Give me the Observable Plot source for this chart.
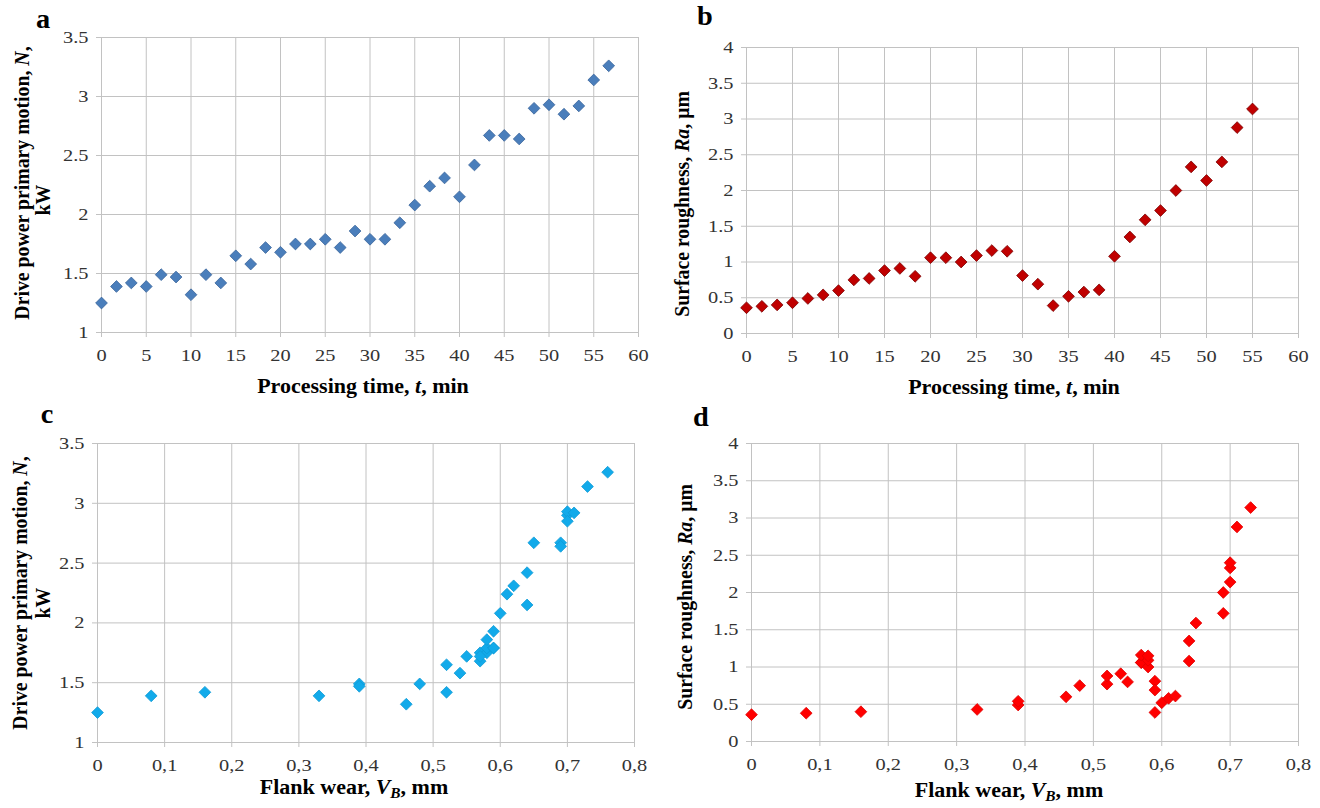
<!DOCTYPE html>
<html><head><meta charset="utf-8">
<script src="https://cdn.jsdelivr.net/npm/d3@7"></script>
<script src="https://cdn.jsdelivr.net/npm/@observablehq/plot@0.6"></script>
<style>
html,body{margin:0;padding:0;background:#fff;}
#root{position:relative;width:1320px;height:808px;overflow:hidden;font-family:'Liberation Serif','DejaVu Serif',serif;background:#fff;}
.panel{position:absolute;}
.t{position:absolute;white-space:nowrap;font-weight:bold;color:#000;transform:translate(-50%,-50%) scaleX(1.1);font-size:20px;line-height:1;font-family:'Liberation Serif','DejaVu Serif',serif;}
.ty{transform:translate(-50%,-50%) rotate(-90deg) scaleY(1.1);font-size:19.8px;}
.letter{font-size:27px;transform:translate(-50%,-50%) scaleX(1.05);}
sub{font-size:0.7em;vertical-align:-0.25em;}
svg text{font-family:'Liberation Serif','DejaVu Serif',serif;}
</style></head><body><div id="root"></div>
<script>
// ---- data ----
const time = [0, 1.67, 3.33, 5, 6.67, 8.33, 10, 11.67, 13.33, 15, 16.67, 18.33, 20, 21.67, 23.33, 25, 26.67, 28.33, 30, 31.67, 33.33, 35, 36.67, 38.33, 40, 41.67, 43.33, 45, 46.67, 48.33, 50, 51.67, 53.33, 55, 56.67];
const power = [1.25, 1.39, 1.42, 1.39, 1.49, 1.47, 1.32, 1.49, 1.42, 1.65, 1.58, 1.72, 1.68, 1.75, 1.75, 1.79, 1.72, 1.86, 1.79, 1.79, 1.93, 2.08, 2.24, 2.31, 2.15, 2.42, 2.67, 2.67, 2.64, 2.90, 2.93, 2.85, 2.92, 3.14, 3.26];
const roughness = [0.36, 0.38, 0.40, 0.43, 0.49, 0.54, 0.60, 0.75, 0.77, 0.88, 0.91, 0.80, 1.06, 1.06, 1.00, 1.09, 1.16, 1.15, 0.81, 0.69, 0.39, 0.52, 0.58, 0.61, 1.08, 1.35, 1.59, 1.72, 2.00, 2.33, 2.14, 2.40, 2.88, 3.14];
const wear = [0, 0.08, 0.16, 0.33, 0.39, 0.39, 0.46, 0.48, 0.52, 0.52, 0.54, 0.55, 0.57, 0.57, 0.58, 0.58, 0.57, 0.58, 0.59, 0.59, 0.59, 0.60, 0.61, 0.62, 0.64, 0.64, 0.65, 0.69, 0.69, 0.70, 0.70, 0.70, 0.71, 0.73, 0.76];

const timeTicks = [0, 5, 10, 15, 20, 25, 30, 35, 40, 45, 50, 55, 60];
const powerTicks = [1, 1.5, 2, 2.5, 3, 3.5];
const roughTicks = [0, 0.5, 1, 1.5, 2, 2.5, 3, 3.5, 4];
const wearTicks = [0, 0.1, 0.2, 0.3, 0.4, 0.5, 0.6, 0.7, 0.8];

const pts = (xs, ys) => ys.map((y, i) => ({x: xs[i], y}));

const root = document.getElementById("root");
const GRID = "#c2c2c2";
const FONT = "'Liberation Serif','DejaVu Serif',serif";

function widen(chart, k) {
  chart.querySelectorAll('g[aria-label$="tick label"] text').forEach(t => {
    const tr = t.getAttribute("transform");
    if (tr && tr.includes("translate")) {
      t.setAttribute("transform", tr + ` scale(${k},1)`);
    } else {
      const x = +t.getAttribute("x") || 0, y = +t.getAttribute("y") || 0;
      t.removeAttribute("x");
      t.setAttribute("transform", `translate(${x},0) scale(${k},1)`);
    }
  });
}

function panel(o) {
  const fmtX = o.comma ? (d => String(d).replace(".", ",")) : (d => String(d));
  const chart = Plot.plot({
    width: o.w, height: o.h,
    marginLeft: o.ml, marginRight: o.mr, marginTop: o.mt, marginBottom: o.mb,
    style: {fontFamily: FONT, fontSize: "17px", background: "#fff", overflow: "visible"},
    x: {domain: [o.xt[0], o.xt[o.xt.length - 1]]},
    y: {domain: [o.yt[0], o.yt[o.yt.length - 1]]},
    marks: [
      Plot.gridX(o.xt, {stroke: GRID, strokeOpacity: 1, strokeWidth: 1}),
      Plot.gridY(o.yt, {stroke: GRID, strokeOpacity: 1, strokeWidth: 1}),
      Plot.axisX(o.xt, {tickSize: 5, tickPadding: 11, tickFormat: fmtX, stroke: GRID, fill: "#333", label: null}),
      Plot.axisY(o.yt, {tickSize: 5, tickPadding: 8, tickFormat: d => String(d), stroke: GRID, fill: "#333", label: null}),
      Plot.dot(o.data, {x: "x", y: "y", symbol: "diamond2", r: 5.3, fill: o.fill, stroke: o.stroke, strokeWidth: 0.8})
    ]
  });
  widen(chart, 1.2);
  chart.classList.add("panel");
  chart.style.left = o.left + "px";
  chart.style.top = o.top + "px";
  root.appendChild(chart);
}

// a
panel({left: 0, top: 0, w: 660, h: 400, ml: 101, mr: 22, mt: 37, mb: 68,
  xt: timeTicks, yt: powerTicks, data: pts(time, power), fill: "#4a7ebb", stroke: "#3a659a"});
// b
panel({left: 660, top: 0, w: 660, h: 400, ml: 86, mr: 22, mt: 47, mb: 67,
  xt: timeTicks, yt: roughTicks, data: pts(time, roughness), fill: "#c00000", stroke: "#7a0000"});
// c
panel({left: 0, top: 400, w: 660, h: 408, ml: 97, mr: 26, mt: 43, mb: 66,
  xt: wearTicks, yt: powerTicks, data: pts(wear, power), fill: "#12aaea", stroke: "#0f9ad6", comma: true});
// d
panel({left: 660, top: 400, w: 660, h: 408, ml: 91, mr: 22, mt: 43, mb: 67,
  xt: wearTicks, yt: roughTicks, data: pts(wear, roughness), fill: "#ff0000", stroke: "#e00000", comma: true});

function txt(html, x, y, cls) {
  const d = document.createElement("div");
  d.className = "t " + (cls || "");
  d.style.left = x + "px";
  d.style.top = y + "px";
  d.innerHTML = html;
  root.appendChild(d);
}
// panel letters
txt("a", 43, 19, "letter");
txt("b", 705, 16, "letter");
txt("c", 47, 414, "letter");
txt("d", 701, 417, "letter");
// y titles
txt("Drive power primary motion, <i>N</i>,", 22, 183, "ty");
txt("kW", 43, 200, "ty");
txt("Surface roughness, <i>Ra</i>, μm", 682, 204, "ty");
txt("Drive power primary motion, <i>N</i>,", 20, 593, "ty");
txt("kW", 43, 603, "ty");
txt("Surface roughness, <i>Ra</i>, μm", 685, 597, "ty");
// x titles
txt("Processing time, <i>t</i>, min", 363, 386);
txt("Processing time, <i>t</i>, min", 1014, 387);
txt("Flank wear, <i>V<sub>B</sub></i>, mm", 354, 789);
txt("Flank wear, <i>V<sub>B</sub></i>, mm", 1009, 792);
</script></body></html>
